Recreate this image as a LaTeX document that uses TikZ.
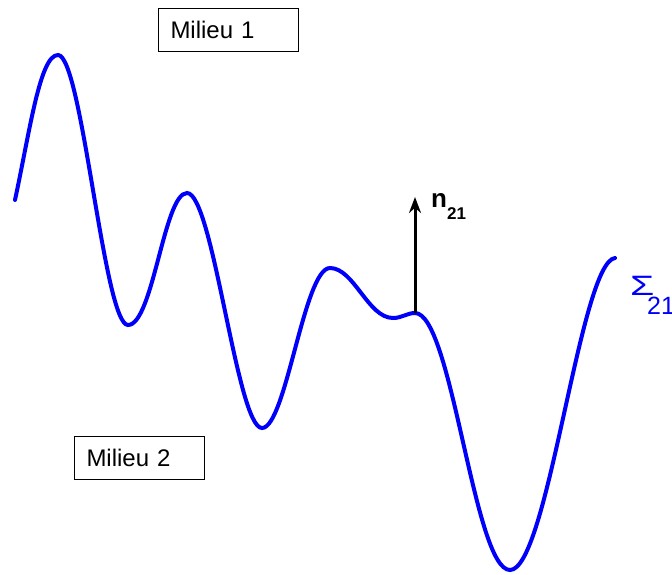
\documentclass[tikz,border=0pt]{standalone}
\usepackage{fontspec}
\usetikzlibrary{arrows.meta}
\setmainfont{Liberation Sans}
\definecolor{surfblue}{RGB}{0,0,250}
\tikzset{
  medium/.style={draw, line width=1pt, inner xsep=12pt, inner ysep=0pt, align=left, minimum height=43pt},
  interface/.style={draw=surfblue, line width=4pt, line cap=round}
}
\begin{document}
\begin{tikzpicture}[x=1pt, y=-1pt, every node/.style={font=\fontsize{24}{28}\selectfont}]
    \useasboundingbox (0,0) rectangle (672,574);

    % Surface de separation
    \draw[interface] (15,200)
        .. controls (30,130) and (40,55) .. (58,55)
        .. controls (82,55) and (104,325) .. (128,325)
        .. controls (153,325) and (164,193) .. (187,193)
        .. controls (213,193) and (237,428) .. (262,428)
        .. controls (286,428) and (304,268) .. (330,268)
        .. controls (354,268) and (368,318) .. (393,318)
        .. controls (402,318) and (407,313) .. (415,313)
        .. controls (452,313) and (474,570) .. (510,570)
        .. controls (548,570) and (580,262) .. (615,258);
    \node[text=surfblue, anchor=base west, inner sep=0pt] (sigma) at (630,295)
        {\makebox[17pt][l]{\fontsize{28}{30}\selectfont\scalebox{1.4}[1.0]{Σ}}\raisebox{-19pt}{\fontsize{25}{28}\selectfont 21}};

    % Normale
    \coordinate (foot) at (415,313);
    \coordinate (tip) at (415,197);
    \draw[line width=3pt, -{Stealth[length=16pt, width=12pt]}] (foot) -- (tip);
    \node[anchor=base west, inner sep=0pt] (normal) at (431,207)
        {\fontsize{26}{28}\selectfont\bfseries n\raisebox{-12pt}{\fontsize{17}{20}\selectfont 21}};

    % Milieux
    \node[medium, text width=116pt] (milieu1) at (228.5,29.5) {Milieu 1};
    \node[medium, text width=106pt] (milieu2) at (139.5,458) {Milieu 2};
\end{tikzpicture}
\end{document}
